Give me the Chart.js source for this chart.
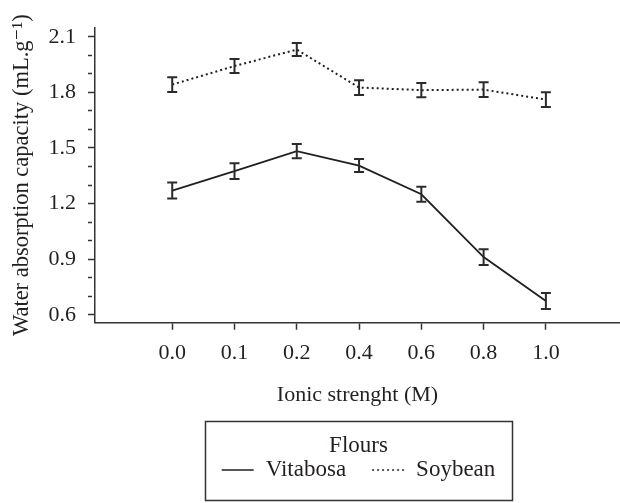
<!DOCTYPE html>
<html>
<head>
<meta charset="utf-8">
<script src="https://cdn.jsdelivr.net/npm/chart.js@4/dist/chart.umd.min.js"></script>
<style>
  html, body { margin: 0; padding: 0; background: #fff; }
  #wrap { width: 620px; height: 503px; position: relative; }
</style>
</head>
<body>
<div id="wrap"><canvas id="myChart"></canvas></div>
<script>
const xLabels = ['0.0', '0.1', '0.2', '0.4', '0.6', '0.8', '1.0'];
const vitabosa = [1.27, 1.375, 1.483, 1.405, 1.25, 0.911, 0.674];
const vitabosaErr = [0.043, 0.043, 0.038, 0.035, 0.04, 0.043, 0.043];
const soybean = [1.842, 1.942, 2.031, 1.826, 1.812, 1.815, 1.761];
const soybeanErr = [0.04, 0.038, 0.035, 0.04, 0.038, 0.04, 0.04];
const yMajorTicks = ['0.6', '0.9', '1.2', '1.5', '1.8', '2.1'];
const yMinorTicks = [0.7, 0.8, 1.0, 1.1, 1.3, 1.4, 1.6, 1.7, 1.9, 2.0];

const ink = '#231f20';
const fontFamily = '"Liberation Serif", "DejaVu Serif", serif';

function toPoints(values) {
    return values.map((v, i) => ({ x: i, y: v }));
}

// error bars with caps, through the chart's scales
const errorBars = {
    id: 'errorBars',
    afterDatasetsDraw(chart) {
        const ctx = chart.ctx;
        const xs = chart.scales.x;
        const ys = chart.scales.y;
        ctx.save();
        ctx.strokeStyle = '#2b2b2b';
        ctx.lineWidth = 2;
        ctx.setLineDash([]);
        chart.data.datasets.forEach(ds => {
            ds.data.forEach((p, i) => {
                const e = ds.errors[i];
                const x = xs.getPixelForValue(p.x);
                const top = ys.getPixelForValue(p.y + e);
                const bot = ys.getPixelForValue(p.y - e);
                ctx.beginPath();
                ctx.moveTo(x, top);
                ctx.lineTo(x, bot);
                ctx.moveTo(x - 5, top);
                ctx.lineTo(x + 5, top);
                ctx.moveTo(x - 5, bot);
                ctx.lineTo(x + 5, bot);
                ctx.stroke();
            });
        });
        ctx.restore();
    }
};

// boxed legend with title, as in the figure
const boxLegend = {
    id: 'boxLegend',
    afterDraw(chart) {
        const ctx = chart.ctx;
        const box = { left: 205, top: 421, width: 307, height: 79 };
        const cx = box.left + box.width / 2;
        ctx.save();
        ctx.strokeStyle = '#333';
        ctx.lineWidth = 1.5;
        ctx.strokeRect(box.left + 0.5, box.top + 0.5, box.width, box.height);

        ctx.fillStyle = ink;
        ctx.font = '23px ' + fontFamily;
        ctx.textBaseline = 'middle';
        ctx.textAlign = 'center';
        ctx.fillText('Flours', cx, 446);

        const sampleW = 32, gap = 12, itemGap = 26, rowY = 470;
        const items = chart.data.datasets;
        let total = 0;
        items.forEach((ds, i) => {
            total += sampleW + gap + ctx.measureText(ds.label).width + (i ? itemGap : 0);
        });
        let x = cx - total / 2;
        ctx.textAlign = 'left';
        items.forEach((ds, i) => {
            if (i) x += itemGap;
            ctx.beginPath();
            ctx.strokeStyle = ds.borderColor;
            ctx.lineWidth = ds.legendWidth;
            ctx.setLineDash(ds.borderDash || []);
            ctx.moveTo(x, rowY);
            ctx.lineTo(x + sampleW, rowY);
            ctx.stroke();
            x += sampleW + gap;
            ctx.fillText(ds.label, x, rowY);
            x += ctx.measureText(ds.label).width;
        });
        ctx.restore();
    }
};

new Chart(document.getElementById('myChart'), {
    type: 'line',
    data: {
        datasets: [{
            label: 'Vitabosa',
            data: toPoints(vitabosa),
            errors: vitabosaErr,
            borderColor: ink,
            borderWidth: 1.8,
            legendWidth: 1.6,
            pointRadius: 0,
            tension: 0
        }, {
            label: 'Soybean',
            data: toPoints(soybean),
            errors: soybeanErr,
            borderColor: ink,
            borderWidth: 2,
            borderDash: [2, 3],
            legendWidth: 1.4,
            pointRadius: 0,
            tension: 0
        }]
    },
    options: {
        responsive: true,
        maintainAspectRatio: false,
        animation: false,
        layout: { padding: { top: 27.7, right: 0, bottom: 95, left: 0 } },
        plugins: {
            legend: { display: false },
            tooltip: { enabled: false }
        },
        scales: {
            x: {
                type: 'linear',
                min: -1.24,
                max: 7.19,
                afterBuildTicks(scale) {
                    scale.ticks = xLabels.map((_, i) => ({ value: i }));
                },
                afterFit(scale) {
                    scale.height = 85.3;
                },
                border: { display: true, color: '#333', width: 1.5 },
                grid: {
                    drawOnChartArea: false,
                    drawTicks: true,
                    tickLength: 7,
                    tickColor: '#333',
                    tickWidth: 1.5
                },
                ticks: {
                    color: ink,
                    font: { family: fontFamily, size: 22 },
                    padding: 10,
                    maxRotation: 0,
                    autoSkip: false,
                    callback: v => xLabels[v]
                },
                title: {
                    display: true,
                    text: 'Ionic strenght (M)',
                    color: ink,
                    font: { family: fontFamily, size: 22, lineHeight: 1.2 },
                    padding: { top: 0, bottom: 0 }
                }
            },
            y: {
                type: 'linear',
                min: 0.557,
                max: 2.149,
                afterBuildTicks(scale) {
                    const vals = yMajorTicks.map(Number).concat(yMinorTicks).sort((a, b) => a - b);
                    scale.ticks = vals.map(v => ({ value: v }));
                },
                afterFit(scale) {
                    scale.width = 95;
                },
                border: { display: true, color: '#333', width: 1.5 },
                grid: {
                    drawOnChartArea: false,
                    drawTicks: true,
                    tickLength: 7,
                    tickColor: '#333',
                    tickWidth: 1.5,
                    tickBorderDash: ctx => yMajorTicks.includes(ctx.tick.value.toFixed(1)) ? [] : [4, 40]
                },
                ticks: {
                    color: ink,
                    font: { family: fontFamily, size: 22 },
                    padding: 12,
                    autoSkip: false,
                    callback: v => {
                        const s = v.toFixed(1);
                        return yMajorTicks.includes(s) ? s : '';
                    }
                },
                title: {
                    display: true,
                    text: 'Water absorption capacity (mL.g\u207B\u00B9)',
                    color: ink,
                    font: { family: fontFamily, size: 22.5, lineHeight: 1.2 },
                    padding: { top: 9, bottom: 0 }
                }
            }
        }
    },
    plugins: [errorBars, boxLegend]
});
</script>
</body>
</html>
